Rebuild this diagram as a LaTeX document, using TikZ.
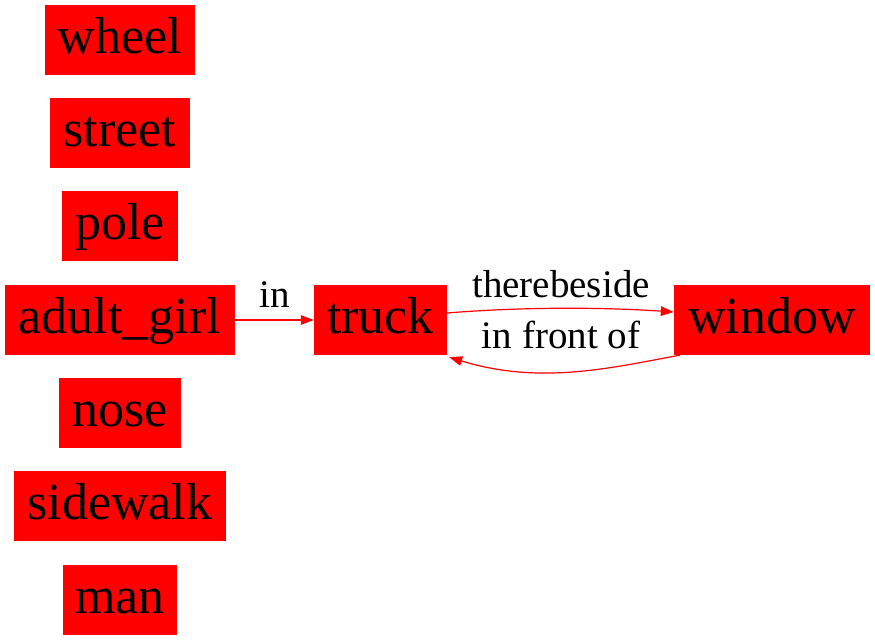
\documentclass[tikz,border=0pt]{standalone}
\usepackage{fontspec}
\setmainfont{Liberation Serif}
\usetikzlibrary{arrows.meta}
\begin{document}
\begin{tikzpicture}[x=1pt,y=-1pt,
  obj/.style={fill=red, inner sep=0pt, minimum height=70pt, text height=40pt, text depth=14pt,
    font=\fontsize{52}{60}\selectfont},
  lbl/.style={anchor=base, inner sep=0pt, font=\fontsize{39}{45}\selectfont},
  rel/.style={draw=red, line width=1.2pt, -{Triangle[length=13pt,width=9.5pt,fill=red]}}]
\useasboundingbox (0,0) rectangle (875,640);
\node[obj, minimum width=150pt] (wheel) at (120,40) {wheel};
\node[obj, minimum width=140pt] (street) at (120,133) {street};
\node[obj, minimum width=116pt] (pole) at (120,226) {pole};
\node[obj, minimum width=230pt] (girl) at (120,320) {adult\_girl};
\node[obj, minimum width=122pt] (nose) at (120,413) {nose};
\node[obj, minimum width=212pt] (sidewalk) at (120,506) {sidewalk};
\node[obj, minimum width=114pt] (man) at (120,600) {man};
\node[obj, minimum width=133pt] (truck) at (380.5,320) {truck};
\node[obj, minimum width=196pt] (window) at (772,320) {window};
\draw[rel] (girl.east) -- (truck.west);
\draw[rel] ([yshift=7pt]truck.east) .. controls (520,307) and (600,307) .. ([yshift=8pt]window.west);
\draw[rel] ([xshift=6pt]window.south west) .. controls (610,368) and (540,385) .. ([xshift=2pt,yshift=-2pt]truck.south east);
\node[lbl] (lin) at (275,307) {in};
\node[lbl] (lbeside) at (561,297) {therebeside};
\node[lbl] (lfront) at (561,348) {in front of};
\end{tikzpicture}
\end{document}
